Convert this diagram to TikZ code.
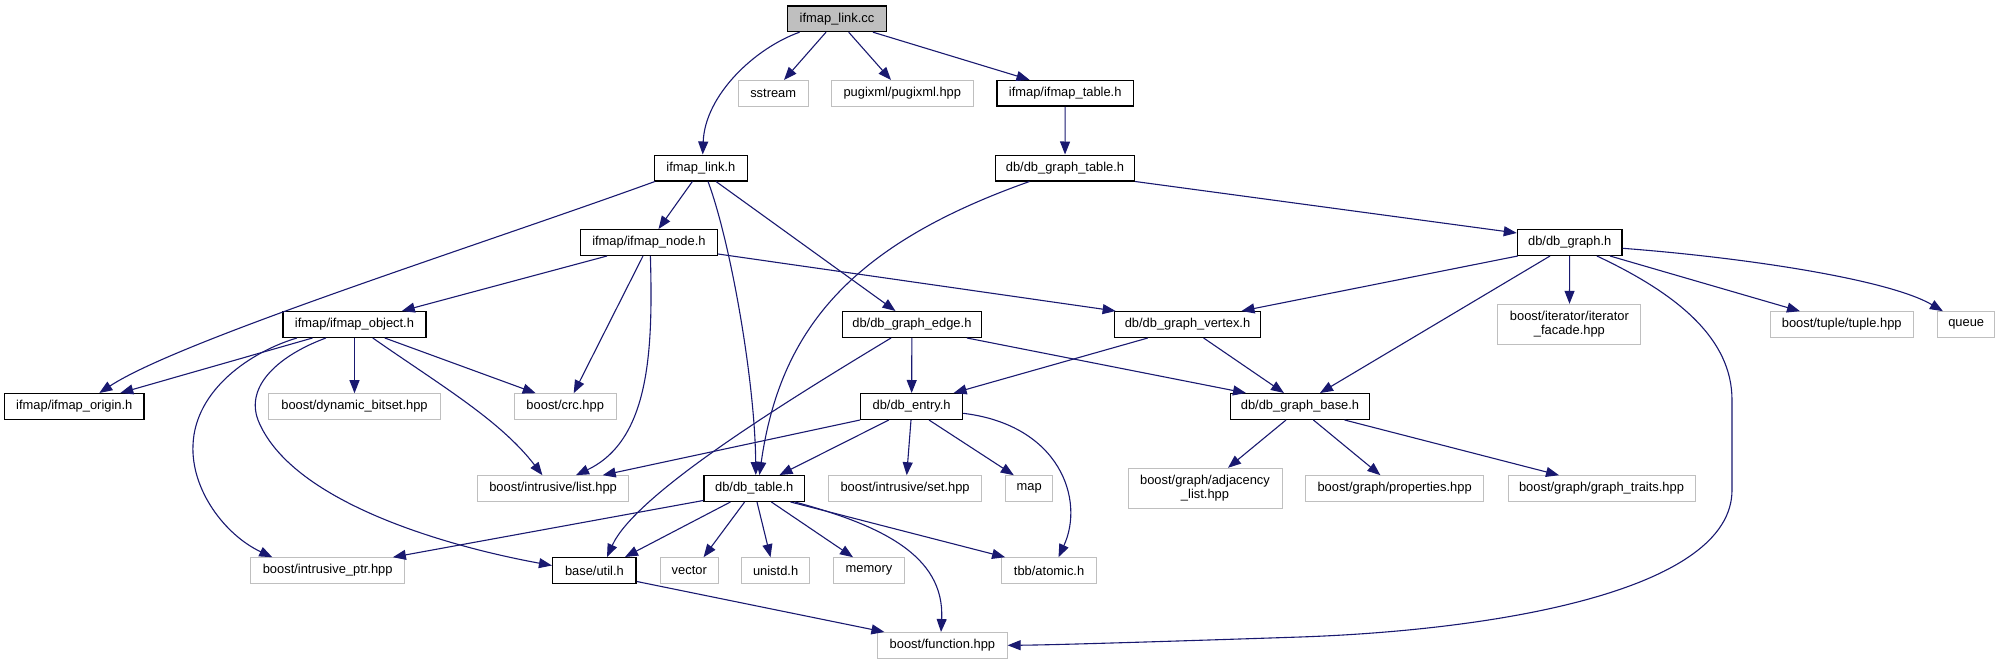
\documentclass[tikz,border=0pt]{standalone}
\usepackage{fontspec}
\setmainfont{Liberation Sans}
\usetikzlibrary{arrows.meta}
\definecolor{edgeblue}{HTML}{191970}
\definecolor{graybd}{HTML}{BFBFBF}
\definecolor{fillgray}{HTML}{BFBFBF}
\begin{document}
\begin{tikzpicture}[x=1pt,y=-1pt,
  every node/.style={font=\fontsize{12.9}{14.3}\selectfont, inner sep=0pt, align=center},
  blk/.style={draw=black, line width=1.4pt, rectangle, minimum height=25.6pt},
  gry/.style={draw=graybd, line width=1pt, rectangle, minimum height=25.6pt},
  conn/.style={draw=edgeblue, line width=1.1pt, -{Triangle[length=13pt,width=10pt]}}]
\useasboundingbox (0,0) rectangle (1999,664);
% rank 0
\node[blk, fill=fillgray, minimum width=99pt] (cc) at (837,18.7) {ifmap\_link.cc};
% rank 1
\node[gry, minimum width=69.6pt] (ss) at (773.2,93.3) {sstream};
\node[gry, minimum width=142pt] (pg) at (902.3,93.3) {pugixml/pugixml.hpp};
\node[blk, minimum width=136.6pt] (it) at (1065.2,93.3) {ifmap/ifmap\_table.h};
% rank 2
\node[blk, minimum width=92.8pt] (lh) at (700.9,168) {ifmap\_link.h};
\node[blk, minimum width=139pt] (gt) at (1065,168) {db/db\_graph\_table.h};
% rank 3
\node[blk, minimum width=137pt] (nd) at (648.9,242.5) {ifmap/ifmap\_node.h};
\node[blk, minimum width=104.5pt] (gr) at (1569.7,242.5) {db/db\_graph.h};
% rank 4
\node[blk, minimum width=143pt] (ob) at (354.5,324.5) {ifmap/ifmap\_object.h};
\node[blk, minimum width=139pt] (ge) at (911.9,324.5) {db/db\_graph\_edge.h};
\node[blk, minimum width=146.4pt] (gv) at (1187.5,324.5) {db/db\_graph\_vertex.h};
\node[gry, minimum width=143pt, minimum height=40pt] (itf) at (1569.4,324.3) {boost/iterator/iterator\\\_facade.hpp};
\node[gry, minimum width=143.4pt] (tu) at (1841.7,324.5) {boost/tuple/tuple.hpp};
\node[gry, minimum width=57.5pt] (qu) at (1966.2,324.5) {queue};
% rank 5
\node[blk, minimum width=139.7pt] (or) at (74.3,406.5) {ifmap/ifmap\_origin.h};
\node[gry, minimum width=171.4pt] (db) at (354.5,406.5) {boost/dynamic\_bitset.hpp};
\node[gry, minimum width=101.8pt] (crc) at (565.2,406.5) {boost/crc.hpp};
\node[blk, minimum width=101.8pt] (en) at (911.6,406.5) {db/db\_entry.h};
\node[blk, minimum width=139.2pt] (gb) at (1300,406.5) {db/db\_graph\_base.h};
% rank 6
\node[gry, minimum width=151pt] (li) at (553.1,488.5) {boost/intrusive/list.hpp};
\node[blk, minimum width=100.5pt] (tb) at (754.2,488.5) {db/db\_table.h};
\node[gry, minimum width=152.3pt] (se) at (905.1,488.5) {boost/intrusive/set.hpp};
\node[gry, minimum width=47pt] (mp) at (1029.2,488.5) {map};
\node[gry, minimum width=154pt, minimum height=40.4pt] (ad) at (1205,488.5) {boost/graph/adjacency\\\_list.hpp};
\node[gry, minimum width=178.5pt] (pr) at (1394.6,488.5) {boost/graph/properties.hpp};
\node[gry, minimum width=187pt] (tr) at (1601.5,488.5) {boost/graph/graph\_traits.hpp};
% rank 7
\node[gry, minimum width=153.6pt] (ip) at (327.7,570.5) {boost/intrusive\_ptr.hpp};
\node[blk, minimum width=83.5pt] (ut) at (594.4,570.5) {base/util.h};
\node[gry, minimum width=58pt] (ve) at (689.3,570.5) {vector};
\node[gry, minimum width=68.3pt] (un) at (775.6,570.5) {unistd.h};
\node[gry, minimum width=71pt] (me) at (869,570.5) {memory};
\node[gry, minimum width=94.6pt] (atm) at (1049.1,570.5) {tbb/atomic.h};
% rank 8
\node[gry, minimum width=129.4pt] (fn) at (942.4,645.3) {boost/function.hpp};

% edges
\draw[conn] ([xshift=-37.4pt]cc.south) .. controls (755,48) and (705,95) .. ([xshift=1.8pt]lh.north);
\draw[conn] ([xshift=-11pt]cc.south) -- ([xshift=10.8pt]ss.north);
\draw[conn] ([xshift=11.7pt]cc.south) -- ([xshift=-11.3pt]pg.north);
\draw[conn] ([xshift=36pt]cc.south) -- ([xshift=-35.7pt]it.north);
\draw[conn] (it) -- (gt);
\draw[conn] ([xshift=-46pt]lh.south) .. controls (480,245) and (180,340) .. ([xshift=25pt]or.north);
\draw[conn] ([xshift=-8.5pt]lh.south) -- ([xshift=9.6pt]nd.north);
\draw[conn] ([xshift=7.1pt]lh.south) .. controls (730,240) and (755,380) .. ([xshift=1.6pt]tb.north);
\draw[conn] ([xshift=15.1pt]lh.south) -- ([xshift=-16.4pt]ge.north);
\draw[conn] ([xshift=-35.5pt]gt.south) .. controls (850,245) and (780,330) .. ([xshift=5.2pt]tb.north);
\draw[conn] (gt.south east) -- ([yshift=9.5pt]gr.west);
\draw[conn] ([xshift=-41.9pt]nd.south) -- ([xshift=47.3pt]ob.north);
\draw[conn] ([xshift=-5.9pt]nd.south) -- ([xshift=8.5pt]crc.north);
\draw[conn] ([xshift=1.5pt]nd.south) .. controls (653,350) and (650,440) .. ([xshift=22.9pt]li.north);
\draw[conn] ([yshift=2pt]nd.south east) -- ([xshift=2pt]gv.north west);
\draw[conn] ([xshift=-42pt]ob.south) -- ([xshift=46pt]or.north);
\draw[conn] ([xshift=-57.6pt]ob.south) .. controls (250,352) and (195,390) .. (193,445) .. controls (191,490) and (225,535) .. ([xshift=-55.4pt]ip.north);
\draw[conn] ([xshift=-28.6pt]ob.south) .. controls (280,355) and (245,385) .. (258,420) .. controls (290,500) and (440,545) .. ([yshift=5pt]ut.west);
\draw[conn] (ob) -- (db);
\draw[conn] ([xshift=18.3pt]ob.south) .. controls (440,385) and (500,420) .. ([xshift=-10.7pt]li.north);
\draw[conn] ([xshift=30.3pt]ob.south) -- ([xshift=-29.5pt]crc.north);
\draw[conn] (ge) -- (en);
\draw[conn] ([xshift=-20.9pt]ge.south) .. controls (780,405) and (635,495) .. ([xshift=12.6pt]ut.north);
\draw[conn] ([xshift=55.1pt]ge.south) -- ([xshift=-54pt]gb.north);
\draw[conn] ([xshift=-39.7pt]gv.south) -- ([xshift=42pt]en.north);
\draw[conn] ([xshift=16.1pt]gv.south) -- ([xshift=-16pt]gb.north);
\draw[conn] ([xshift=-52pt]gr.south) -- ([xshift=54pt]gv.north);
\draw[conn] ([xshift=-19.7pt]gr.south) -- ([xshift=20pt]gb.north);
\draw[conn] (gr) -- (itf);
\draw[conn] ([xshift=27.2pt]gr.south) .. controls (1680,295) and (1732,340) .. (1732,400) -- (1732,490) .. controls (1732,590) and (1500,630) .. (1300,637) .. controls (1150,642) and (1050,645) .. (fn.east);
\draw[conn] ([xshift=40.3pt]gr.south) -- ([xshift=-41.7pt]tu.north);
\draw[conn] ([yshift=-5.8pt]gr.east) .. controls (1750,258) and (1890,280) .. ([xshift=-23.3pt]qu.north);
\draw[conn] ([xshift=-14pt]gb.south) -- ([xshift=23pt]ad.north);
\draw[conn] ([xshift=13.4pt]gb.south) -- ([xshift=-14.2pt]pr.north);
\draw[conn] ([xshift=44.6pt]gb.south) -- ([xshift=-42.5pt]tr.north);
\draw[conn] (en.south west) -- ([xshift=49.6pt]li.north);
\draw[conn] ([xshift=-22.8pt]en.south) -- ([xshift=25.3pt]tb.north);
\draw[conn] ([xshift=-0.6pt]en.south) -- ([xshift=1.6pt]se.north);
\draw[conn] ([xshift=17.4pt]en.south) -- ([xshift=-15.4pt]mp.north);
\draw[conn] ([yshift=-6.8pt]en.east) .. controls (1060,425) and (1085,500) .. ([xshift=9.4pt]atm.north);
\draw[conn] ([yshift=1.5pt]tb.south west) -- ([xshift=65.2pt]ip.north);
\draw[conn] ([xshift=-23.8pt]tb.south) -- ([xshift=30.6pt]ut.north);
\draw[conn] ([xshift=-9.6pt]tb.south) -- ([xshift=14.3pt]ve.north);
\draw[conn] ([xshift=2.8pt]tb.south) -- ([xshift=-5.1pt]un.north);
\draw[conn] ([xshift=17.2pt]tb.south) -- ([xshift=-16pt]me.north);
\draw[conn] ([xshift=36.4pt]tb.south) -- ([xshift=-44pt]atm.north);
\draw[conn] ([xshift=40.8pt]tb.south) .. controls (880,525) and (945,555) .. ([xshift=-1.4pt]fn.north);
\draw[conn] ([yshift=-11pt]ut.east) -- ([xshift=-58pt]fn.north);
\end{tikzpicture}
\end{document}
